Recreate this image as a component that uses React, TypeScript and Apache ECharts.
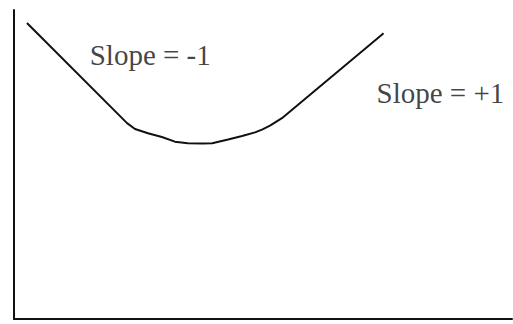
import React, { useEffect, useRef } from 'react';
import * as echarts from 'echarts';

// U-shaped cost curve: steep fall, rounded bottom, steady rise
const curveX = [2.6, 22.7, 24.3, 26.9, 29.7, 32.3, 34.9, 37.8, 39.8, 43.0, 45.8, 48.4, 49.8, 51.4, 53.8, 73.8, 74.2];
const curveY = [95.8, 63.4, 61.5, 60.1, 58.9, 57.4, 56.9, 56.8, 56.9, 58.1, 59.2, 60.4, 61.3, 62.6, 65.0, 91.9, 92.5];

// Slope annotations
const annotationText = ['Slope = -1', 'Slope = +1'];
const annotationX = [15.1, 72.7];
const annotationY = [85.3, 73.3];

export default function App() {
  const ref = useRef<HTMLDivElement>(null);
  useEffect(() => {
    if (!ref.current) return;
    const chart = echarts.init(ref.current, undefined, { renderer: 'svg' });
    chart.setOption({
      animation: false,
      backgroundColor: '#ffffff',
      grid: { left: 14, top: 10, right: 1, bottom: 5, containLabel: false },
      xAxis: {
        type: 'value',
        min: 0,
        max: 100,
        axisLine: { show: true, lineStyle: { color: '#111', width: 2 } },
        axisTick: { show: false },
        axisLabel: { show: false },
        splitLine: { show: false },
      },
      yAxis: {
        type: 'value',
        min: 0,
        max: 100,
        axisLine: { show: true, lineStyle: { color: '#111', width: 2 } },
        axisTick: { show: false },
        axisLabel: { show: false },
        splitLine: { show: false },
      },
      series: [
        {
          type: 'line',
          data: curveX.map((x, i) => [x, curveY[i]]),
          showSymbol: false,
          symbol: 'none',
          smooth: false,
          lineStyle: { color: '#111', width: 2 },
          silent: true,
        },
        {
          type: 'scatter',
          data: annotationX.map((x, i) => ({ value: [x, annotationY[i]], name: annotationText[i] })),
          symbolSize: 1,
          itemStyle: { color: 'rgba(0,0,0,0)' },
          silent: true,
          label: {
            show: true,
            position: 'right',
            distance: 0,
            formatter: (p: any) => p.name,
            fontFamily: 'Liberation Serif',
            fontSize: 29,
            color: '#111',
            verticalAlign: 'middle',
          },
        },
      ],
    });
    return () => chart.dispose();
  }, []);
  return (
    <div
      ref={ref}
      style={{ position: 'fixed', left: 0, top: 0, width: 513, height: 324, background: '#fff' }}
    />
  );
}
